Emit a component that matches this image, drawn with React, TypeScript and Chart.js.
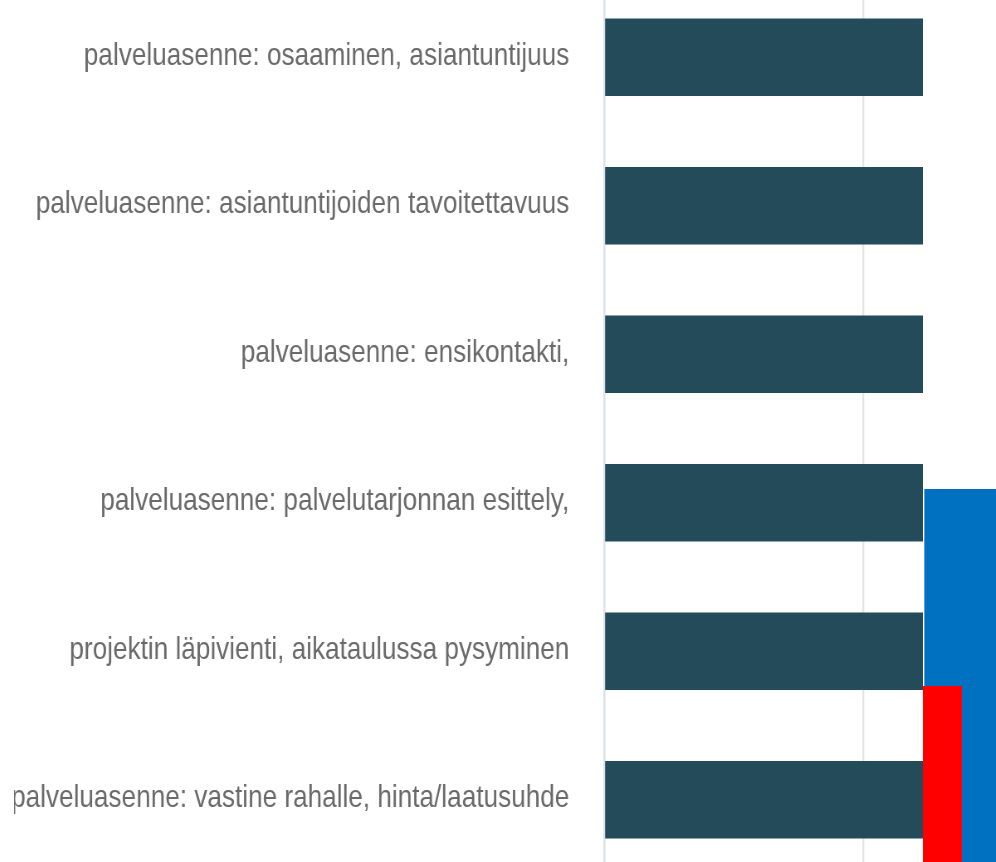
import React, { useEffect, useRef } from "react";
import { Chart, registerables } from "chart.js";

Chart.register(...registerables);

// ---- data ----
const categories: string[] = [
  "palveluasenne: osaaminen, asiantuntijuus",
  "palveluasenne: asiantuntijoiden tavoitettavuus",
  "palveluasenne: ensikontakti,",
  "palveluasenne: palvelutarjonnan esittely,",
  "projektin läpivienti, aikataulussa pysyminen",
  "palveluasenne: vastine rahalle, hinta/laatusuhde",
];
const scores: number[] = [4.2, 4.0, 4.1, 3.9, 3.8, 3.7];
const xMin = 0;
const xMax = 5;
const xStep = 1;

const FONT = "'Liberation Sans', Arial, sans-serif";
const SQUEEZE = 0.83; // the reference text is horizontally condensed
const CANVAS_W = 2271;
const CANVAS_H = 930;

export default function App() {
  const ref = useRef<HTMLCanvasElement | null>(null);

  useEffect(() => {
    if (!ref.current) return;
    const chart = new Chart(ref.current, {
      type: "bar",
      data: {
        labels: categories,
        datasets: [
          {
            data: scores,
            backgroundColor: "#234B5A",
            borderWidth: 0,
            barPercentage: 0.522,
            categoryPercentage: 1,
          },
        ],
      },
      options: {
        indexAxis: "y",
        responsive: false,
        animation: false,
        layout: { padding: 0 },
        plugins: { legend: { display: false }, tooltip: { enabled: false } },
        scales: {
          x: {
            min: xMin,
            max: xMax,
            ticks: { stepSize: xStep, color: "#666", font: { family: FONT, size: 20 } },
            grid: { color: "#e6e6e6", lineWidth: 2.4, drawTicks: false },
            border: { display: false },
            afterFit: (s: any) => {
              s.height = 39;
              s.paddingLeft = 0;
              s.paddingRight = 0;
            },
          },
          y: {
            grid: { display: false, drawTicks: false },
            border: { display: true, color: "#dce1ef", width: 2.4 },
            ticks: {
              color: "#6a6a6a",
              font: { family: FONT, size: 31.5 },
              padding: 42,
              labelOffset: -1,
            },
            afterFit: (s: any) => {
              s.width = 711;
              s.paddingTop = 0;
              s.paddingBottom = 0;
            },
          },
        },
      },
    });
    return () => chart.destroy();
  }, []);

  return (
    <div
      style={{
        position: "fixed",
        left: 0,
        top: 0,
        width: 996,
        height: 862,
        overflow: "hidden",
        background: "#fff",
      }}
    >
      <div
        style={{
          position: "absolute",
          left: 14,
          top: 0,
          width: 909,
          height: 862,
          overflow: "hidden",
        }}
      >
        <canvas
          ref={ref}
          width={CANVAS_W}
          height={CANVAS_H}
          style={{
            position: "absolute",
            left: 0,
            top: -17,
            width: CANVAS_W,
            height: CANVAS_H,
            transform: `scaleX(${SQUEEZE})`,
            transformOrigin: "0 0",
          }}
        />
      </div>
      <div
        style={{
          position: "absolute",
          left: 924,
          top: 489,
          width: 72,
          height: 373,
          background: "#0070C0",
          borderLeft: "1px solid #5a9fd8",
          boxSizing: "border-box",
        }}
      />
      <div
        style={{
          position: "absolute",
          left: 923,
          top: 686,
          width: 39,
          height: 176,
          background: "#FF0000",
        }}
      />
    </div>
  );
}
